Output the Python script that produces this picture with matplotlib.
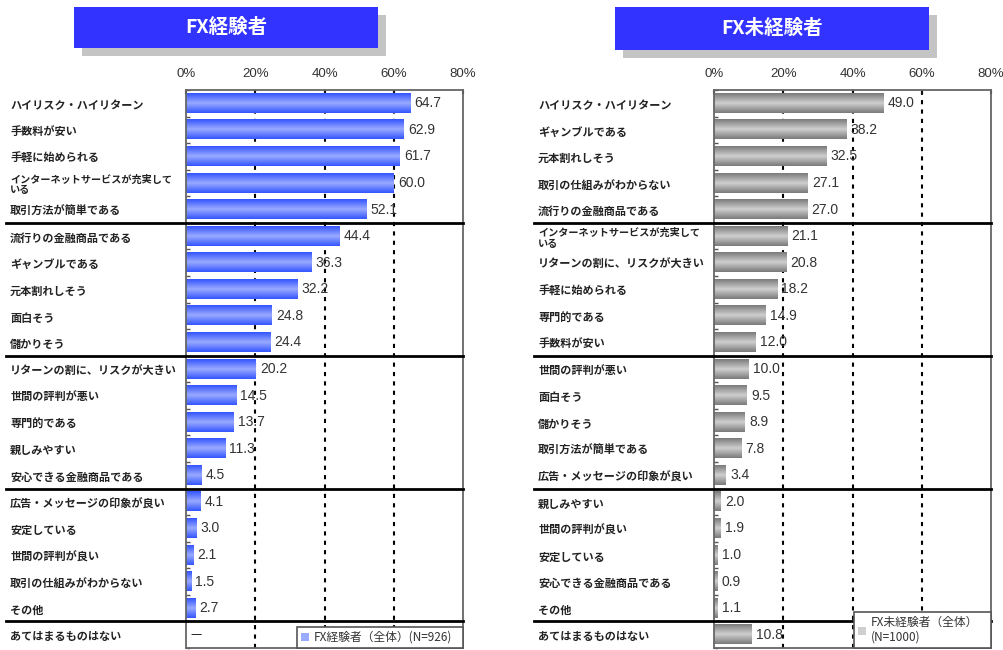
import numpy as np
import matplotlib
matplotlib.use("Agg")
import matplotlib.pyplot as plt
from matplotlib.patches import Rectangle, Patch
from matplotlib.colors import LinearSegmentedColormap

plt.rcParams['font.family'] = ['Noto Sans CJK JP', 'DejaVu Sans']

# --- data: FX experienced (left) ---
labels_exp = ["ハイリスク・ハイリターン", "手数料が安い", "手軽に始められる",
              "インターネットサービスが充実して\nいる", "取引方法が簡単である",
              "流行りの金融商品である", "ギャンブルである", "元本割れしそう", "面白そう",
              "儲かりそう", "リターンの割に、リスクが大きい", "世間の評判が悪い", "専門的である",
              "親しみやすい", "安心できる金融商品である", "広告・メッセージの印象が良い",
              "安定している", "世間の評判が良い", "取引の仕組みがわからない", "その他",
              "あてはまるものはない"]
values_exp = [64.7, 62.9, 61.7, 60.0, 52.1, 44.4, 36.3, 32.2, 24.8, 24.4,
              20.2, 14.5, 13.7, 11.3, 4.5, 4.1, 3.0, 2.1, 1.5, 2.7, None]

# --- data: FX non-experienced (right) ---
labels_non = ["ハイリスク・ハイリターン", "ギャンブルである", "元本割れしそう",
              "取引の仕組みがわからない", "流行りの金融商品である",
              "インターネットサービスが充実して\nいる", "リターンの割に、リスクが大きい",
              "手軽に始められる", "専門的である", "手数料が安い", "世間の評判が悪い", "面白そう",
              "儲かりそう", "取引方法が簡単である", "広告・メッセージの印象が良い", "親しみやすい",
              "世間の評判が良い", "安定している", "安心できる金融商品である", "その他",
              "あてはまるものはない"]
values_non = [49.0, 38.2, 32.5, 27.1, 27.0, 21.1, 20.8, 18.2, 14.9, 12.0,
              10.0, 9.5, 8.9, 7.8, 3.4, 2.0, 1.9, 1.0, 0.9, 1.1, 10.8]

ticks = [0, 20, 40, 60, 80]
tick_labels = ["0%", "20%", "40%", "60%", "80%"]
groups = [5, 10, 15, 20]  # separator after these rows

W, H = 1004, 650
fig = plt.figure(figsize=(W / 100, H / 100), dpi=100)


def fx(px):
    return px / W


def fy(py):
    return 1 - py / H


def gradient_cmap(edge, mid):
    return LinearSegmentedColormap.from_list("g", [edge, mid, edge])


def panel(left_px, labels, values, cmap, legend_text, legend_box):
    ax = fig.add_axes([fx(left_px), fy(648), fx(277), 558 / H])
    n = len(labels)
    ys = np.arange(n)
    vals = [v if v is not None else 0 for v in values]
    bars = ax.barh(ys, vals, height=0.72, color="none", edgecolor="none", zorder=2)
    grad = np.linspace(0, 1, 64).reshape(-1, 1)
    for b in bars:
        x0, y0, w, h = b.get_x(), b.get_y(), b.get_width(), b.get_height()
        if w > 0:
            ax.imshow(grad, extent=[x0, x0 + w, y0 + h, y0], aspect="auto",
                      cmap=cmap, zorder=2, interpolation="bilinear")
    for y, v in zip(ys, values):
        if v is None:
            ax.text(1.2, y, "—", va="center", ha="left", fontsize=9, color="#222")
        else:
            ax.annotate(f"{v:.1f}", (v, y), xytext=(3, 0), textcoords="offset points",
                        va="center", ha="left", fontsize=10, color="#333", zorder=4,
                        family="Liberation Sans")
    ax.set_xlim(0, 80)
    ax.set_ylim(n - 0.5, -0.5)
    ax.set_xticks(ticks)
    ax.set_xticklabels(tick_labels, fontsize=9.5, color="#333", family="Liberation Sans")
    ax.xaxis.tick_top()
    ax.tick_params(axis="x", direction="in", length=3, width=1.5, pad=7, colors="#111",
                   labelcolor="#333")
    ax.set_yticks(np.arange(n + 1) - 0.5)
    ax.set_yticklabels([])
    ax.tick_params(axis="y", direction="in", length=3, width=1, colors="#555")
    for x in ticks[1:-1]:
        ax.axvline(x, color="black", lw=1.5, ls=(0, (2, 2.5)), zorder=1)
    for s in ax.spines.values():
        s.set_color("#666")
        s.set_linewidth(1.3)
    trans = ax.get_yaxis_transform()
    for y, lab in zip(ys, labels):
        size = 7.3 if "\n" in lab else 8
        ax.text(-0.635, y + 0.08, lab, transform=trans, ha="left", va="center", fontsize=size,
                fontweight="bold", color="#222", linespacing=1.05)
    for g in groups:
        ax.axhline(g - 0.5, xmin=-0.65, xmax=1, color="black", lw=2, clip_on=False, zorder=5)
    handle = Patch(facecolor=cmap(0.5), edgecolor="none")
    leg = ax.legend([handle], [legend_text], loc="lower left", bbox_to_anchor=legend_box,
                    mode="expand", borderaxespad=0, fancybox=False, fontsize=8.5,
                    handlelength=0.7, handleheight=0.7, handletextpad=0.4,
                    borderpad=0.35, framealpha=1, edgecolor="#555")
    leg.get_frame().set_linewidth(1.2)
    for t in leg.get_texts():
        t.set_color("#333")
    leg.set_zorder(6)
    return ax


blue_cmap = gradient_cmap("#3355ff", "#9aaaff")
gray_cmap = gradient_cmap("#7a7a7a", "#cfcfcf")

panel(186, labels_exp, values_exp, blue_cmap, "FX経験者（全体）(N=926)",
      (0.40, 0.0, 0.60, 1 / 21))
panel(714, labels_non, values_non, gray_cmap, "FX未経験者（全体）\n(N=1000)",
      (0.505, 0.0, 0.495, 0.062))

# title boxes with shadows
for (x0, x1, y0, y1, title) in [(74, 378, 7, 48, "FX経験者"), (615, 929, 7, 50, "FX未経験者")]:
    fig.add_artist(Rectangle((fx(x0 + 8), fy(y1 + 8)), fx(x1 - x0), (y1 - y0) / H,
                             transform=fig.transFigure, facecolor="#c4c4c4",
                             edgecolor="none", zorder=1))
    fig.add_artist(Rectangle((fx(x0), fy(y1)), fx(x1 - x0), (y1 - y0) / H,
                             transform=fig.transFigure, facecolor="#3333ff",
                             edgecolor="none", zorder=2))
    fig.text(fx((x0 + x1) / 2), fy((y0 + y1) / 2), title, ha="center", va="center",
             color="white", fontsize=14, fontweight="bold", zorder=3)

fig.savefig("out.png", dpi=100)
